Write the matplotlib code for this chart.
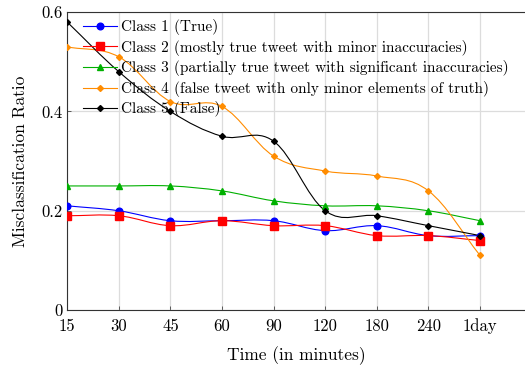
import numpy as np
import matplotlib
matplotlib.use("Agg")
import matplotlib.pyplot as plt
from matplotlib.path import Path
from matplotlib.patches import PathPatch

plt.rcParams["font.family"] = ["cmr10", "DejaVu Serif"]
plt.rcParams["mathtext.fontset"] = "cm"
plt.rcParams["axes.formatter.use_mathtext"] = True

times = ["15", "30", "45", "60", "90", "120", "180", "240", "1day"]
class1 = [0.21, 0.20, 0.18, 0.18, 0.18, 0.16, 0.17, 0.15, 0.15]
class2 = [0.19, 0.19, 0.17, 0.18, 0.17, 0.17, 0.15, 0.15, 0.14]
class3 = [0.25, 0.25, 0.25, 0.24, 0.22, 0.21, 0.21, 0.20, 0.18]
class4 = [0.53, 0.51, 0.42, 0.41, 0.31, 0.28, 0.27, 0.24, 0.11]
class5 = [0.58, 0.48, 0.40, 0.35, 0.34, 0.20, 0.19, 0.17, 0.15]

series = [
    ("Class 1 (True)", class1, "#0000ff", "o", 4.8),
    ("Class 2 (mostly true tweet with minor inaccuracies)", class2, "#ff0000", "s", 5.2),
    ("Class 3 (partially true tweet with significant inaccuracies)", class3, "#00b000", "^", 4.8),
    ("Class 4 (false tweet with only minor elements of truth)", class4, "#ff8c00", "D", 3.0),
    ("Class 5 (False)", class5, "black", "D", 3.0),
]


def smooth_path(x, y, k=0.18):
    # pgfplots-like "smooth": cubic bezier segments through the points
    pts = np.column_stack([x, y]).astype(float)
    n = len(pts)
    tang = np.zeros_like(pts)
    for i in range(n):
        a = pts[max(i - 1, 0)]
        b = pts[min(i + 1, n - 1)]
        tang[i] = (b - a) * (k if 0 < i < n - 1 else 2 * k)
    verts = [pts[0]]
    codes = [Path.MOVETO]
    for i in range(n - 1):
        verts += [pts[i] + tang[i], pts[i + 1] - tang[i + 1], pts[i + 1]]
        codes += [Path.CURVE4] * 3
    return Path(verts, codes)


fig = plt.figure(figsize=(5.25, 3.67), dpi=100)
ax = fig.add_axes([0.128, 0.155, 0.872, 0.812])

x = np.arange(len(times))
for label, vals, color, marker, ms in series:
    ax.add_patch(PathPatch(smooth_path(x, vals), facecolor="none",
                           edgecolor=color, lw=0.8, zorder=3))
    ax.plot(x, vals, linestyle="none", marker=marker, color=color, ms=ms, zorder=4)
    ax.plot([], [], color=color, lw=0.8, marker=marker, ms=ms, label=label)

ax.set_xlim(0, 8.87)
ax.set_ylim(0, 0.6)
ax.set_xticks(x)
ax.set_xticklabels(times)
ax.set_yticks([0, 0.2, 0.4, 0.6])
ax.set_yticklabels(["0", "0.2", "0.4", "0.6"])
ax.tick_params(labelsize=12, direction="in", length=3, width=0.6, color="#444444")
ax.tick_params(axis="x", pad=6)
ax.grid(True, color="#dcdcdc", lw=0.9)
ax.set_axisbelow(True)
ax.spines["right"].set_visible(False)
for s in ["left", "bottom", "top"]:
    ax.spines[s].set_linewidth(0.8)
    ax.spines[s].set_color("#333333")

ax.set_xlabel("Time (in minutes)", fontsize=12.5, labelpad=9)
ax.set_ylabel("Misclassification Ratio", fontsize=12.5, labelpad=9)

ax.legend(loc="upper left", frameon=False, fontsize=11, handlelength=2.2,
          handletextpad=0.26, labelspacing=0.3, borderpad=0, borderaxespad=0,
          bbox_to_anchor=(16 / 457, 1 - 7 / 298))

fig.savefig("out.png", dpi=100)
